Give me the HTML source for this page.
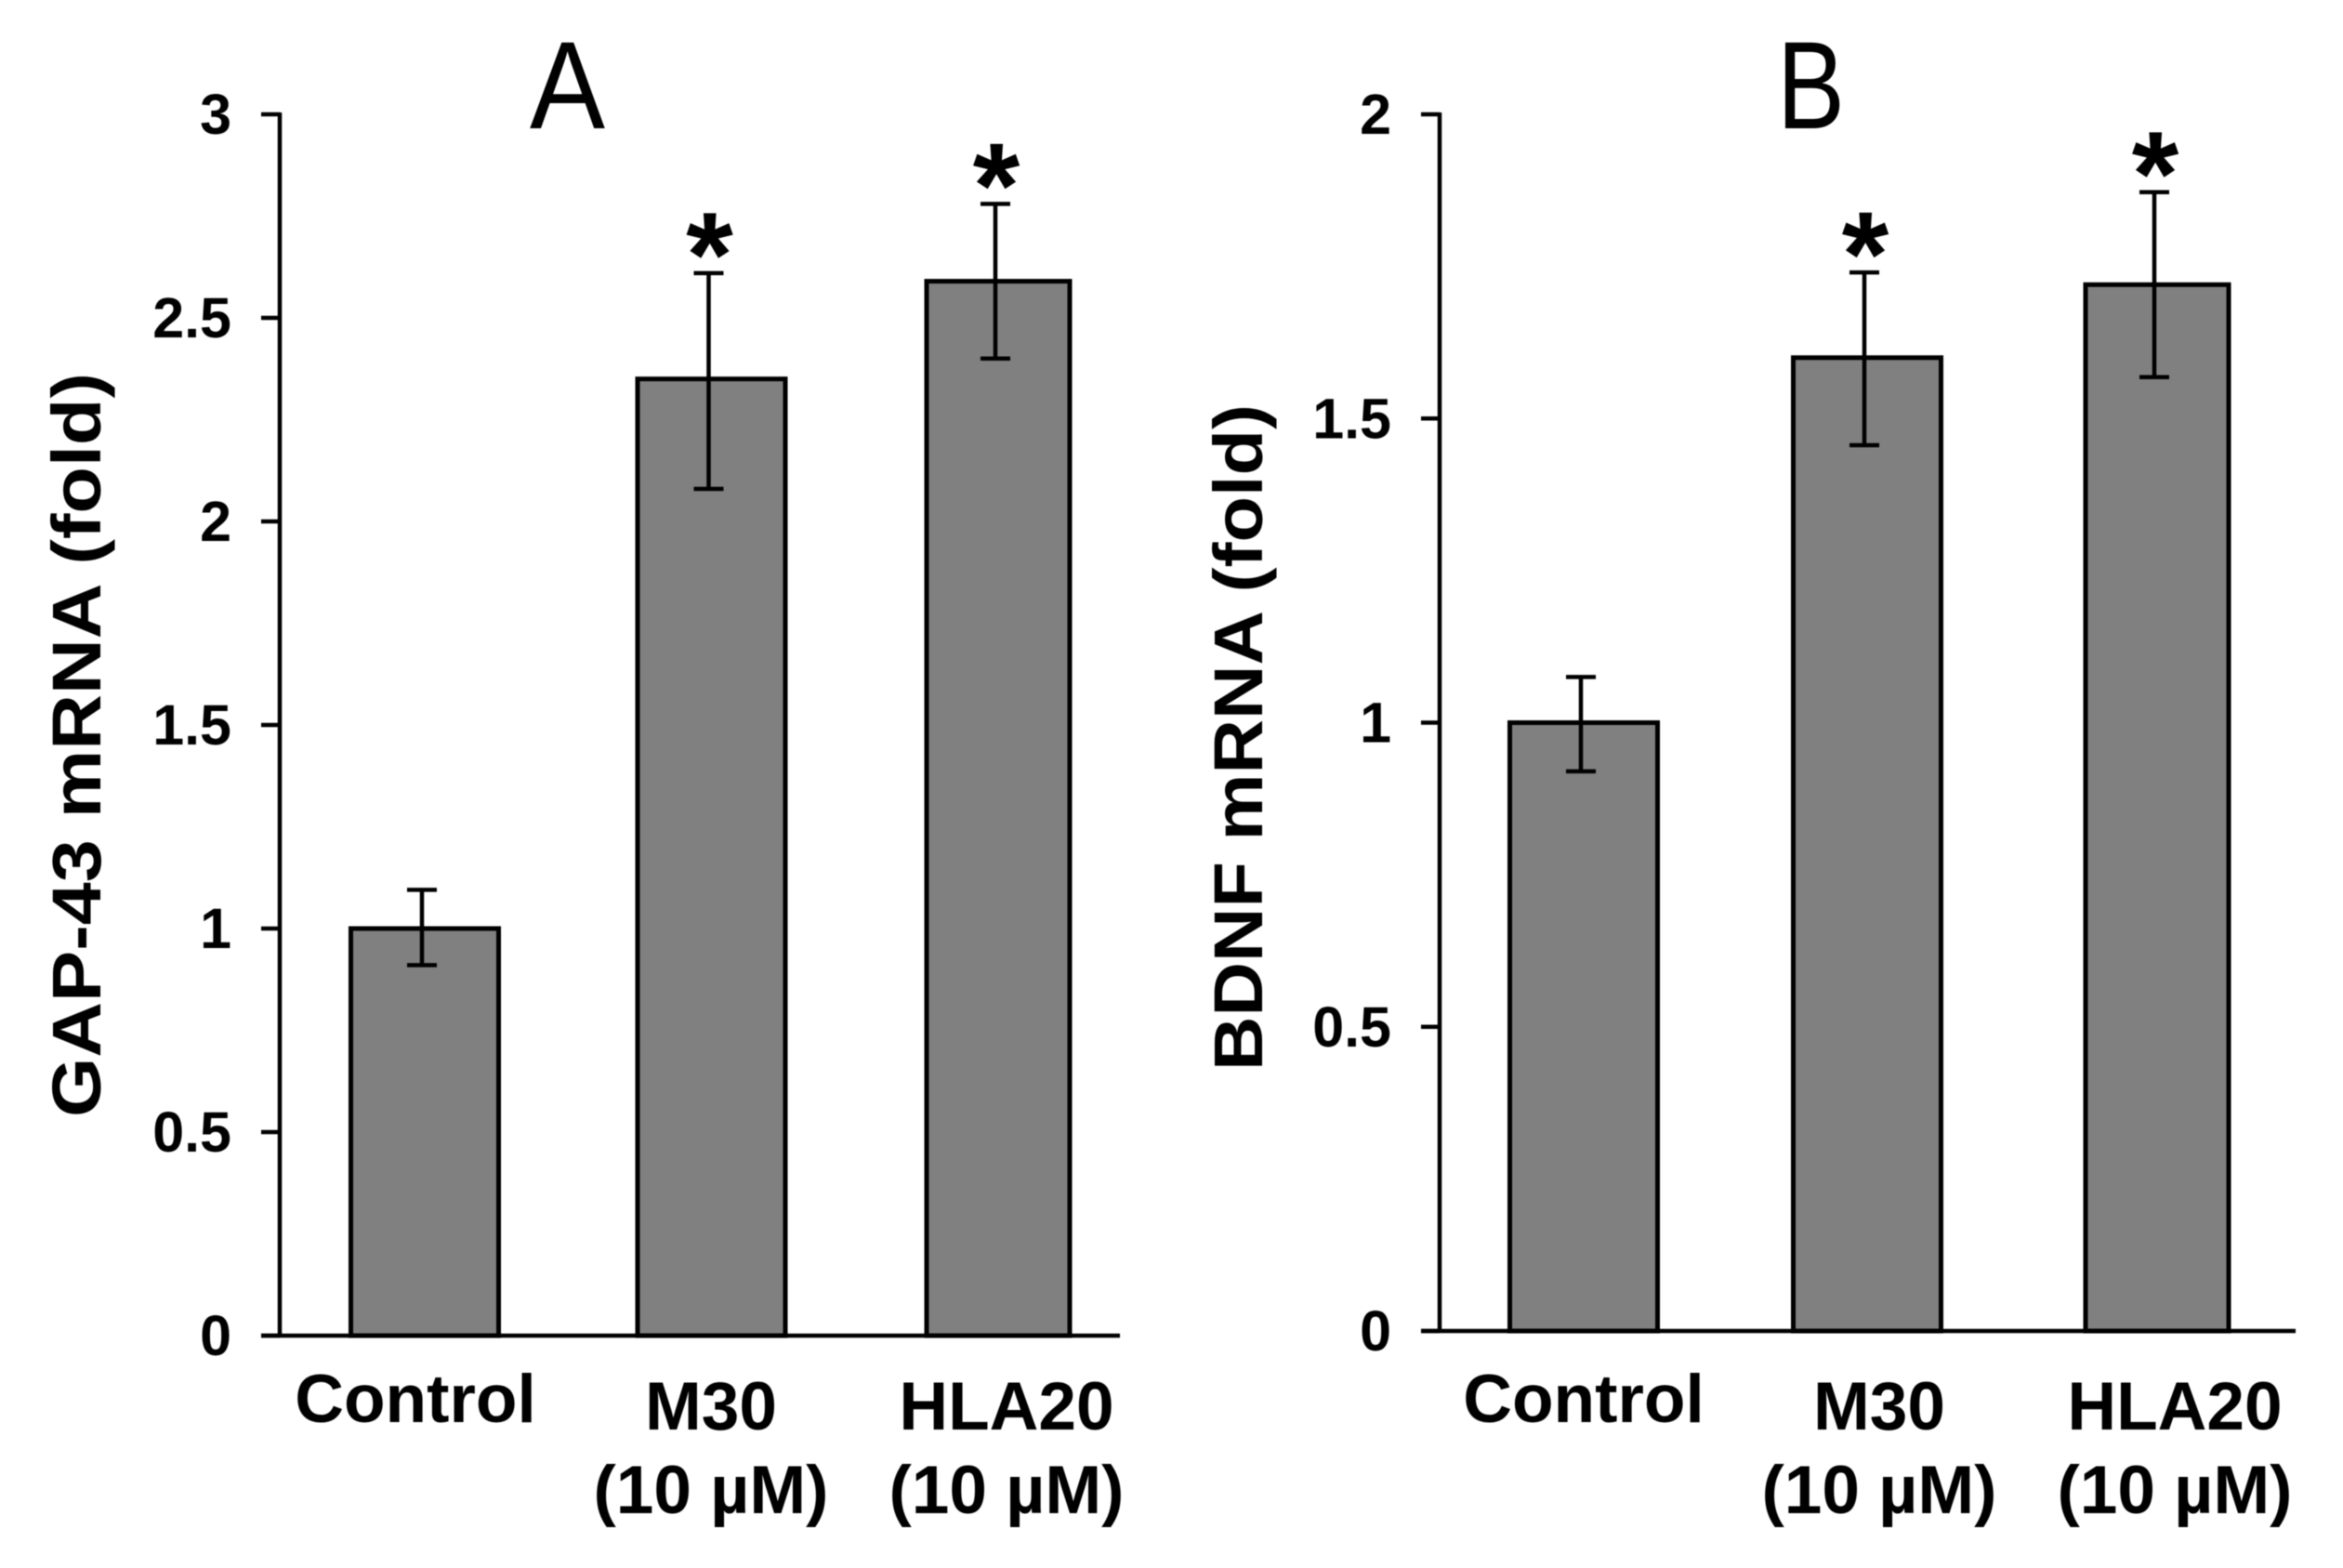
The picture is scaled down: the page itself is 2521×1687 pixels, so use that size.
<!DOCTYPE html>
<html lang="en">
<head>
<meta charset="utf-8">
<title>GAP-43 and BDNF mRNA expression</title>
<style>
  html, body { margin: 0; padding: 0; background: #fff; }
  body { width: 2521px; height: 1687px; overflow: hidden; }
  svg { display: block; filter: blur(0.6px); }
  text { font-family: "Liberation Sans", sans-serif; fill: #000; }
  .tick-text { font-size: 61px; font-weight: bold; text-anchor: end; }
  .cat-text { font-size: 73px; font-weight: bold; text-anchor: middle; }
  .axis-title { font-size: 74px; font-weight: bold; }
  .panel-title { font-size: 134px; font-weight: normal; }
  .star { font-size: 130px; font-weight: bold; text-anchor: middle; }
</style>
</head>
<body>
<svg id="figure" xmlns="http://www.w3.org/2000/svg" width="2521" height="1687" viewBox="0 0 2521 1687">
  <rect width="2521" height="1687" fill="#fff"/>
  <text class="panel-title" x="570" y="138" textLength="81" lengthAdjust="spacingAndGlyphs">A</text>
  <text class="panel-title" x="1912" y="138" textLength="73" lengthAdjust="spacingAndGlyphs">B</text>
  <text class="axis-title" transform="translate(108 1202) rotate(-90)" textLength="801" lengthAdjust="spacingAndGlyphs">GAP-43 mRNA (fold)</text>
  <text class="axis-title" transform="translate(1358 1152) rotate(-90)" textLength="717" lengthAdjust="spacingAndGlyphs">BDNF mRNA (fold)</text>
  <g id="panel-a"></g>
  <g id="panel-b"></g>
</svg>
<script>
const categories = ['Control', 'M30', 'HLA20'];
const doses = ['', '(10 µM)', '(10 µM)'];
const significance = ['', '*', '*'];

const ticksA = [0, 0.5, 1, 1.5, 2, 2.5, 3];
const valuesA = [1, 2.35, 2.59];
const errorHighA = [1.095, 2.61, 2.78];
const errorLowA = [0.91, 2.08, 2.40];

const ticksB = [0, 0.5, 1, 1.5, 2];
const valuesB = [1, 1.6, 1.72];
const errorHighB = [1.075, 1.74, 1.872];
const errorLowB = [0.92, 1.456, 1.568];

const NS = 'http://www.w3.org/2000/svg';

function make(parent, tag, attrs, text) {
  const el = document.createElementNS(NS, tag);
  for (const k in attrs) el.setAttribute(k, attrs[k]);
  if (text !== undefined) el.textContent = text;
  parent.appendChild(el);
  return el;
}

function line(parent, x1, y1, x2, y2, w) {
  return make(parent, 'line', { x1, y1, x2, y2, stroke: '#000', 'stroke-width': w });
}

function drawPanel(root, layout, ticks, values, errHigh, errLow) {
  const yMax = ticks[ticks.length - 1];
  const y = v => layout.yBottom - (v / yMax) * (layout.yBottom - layout.yTop);
  const barCenter = i => layout.barStart + i * layout.barStep + layout.barNudge(i);
  const barWidth = i => (i === values.length - 1 ? layout.barWidth - 5 : layout.barWidth);
  const labelCenter = i => layout.labelStart + i * layout.labelStep;

  values.forEach((v, i) => {
    const bar = make(root, 'rect', {
      x: barCenter(i) - barWidth(i) / 2,
      y: y(v),
      width: barWidth(i),
      height: y(0) - y(v),
      fill: '#808080',
      stroke: '#000',
      'stroke-width': 5
    });
    
    
  });

  values.forEach((v, i) => {
    const cx = barCenter(i) - 3;
    const g = make(root, 'g', {});
    
    
    line(g, cx, y(errHigh[i]), cx, y(errLow[i]), 4.5);
    line(g, cx - 16, y(errHigh[i]), cx + 16, y(errHigh[i]), 4.5);
    line(g, cx - 16, y(errLow[i]), cx + 16, y(errLow[i]), 4.5);

    if (significance[i]) {
      const star = make(root, 'text', {
        class: 'star',
        x: cx + 1,
        y: y(errHigh[i]) + 25
      }, significance[i]);
      
      
    }
  });

  const yAxis = line(root, layout.axisX, y(yMax) - 2, layout.axisX, y(0) + 2, 4.5);
  
  
  const xAxis = line(root, layout.axisX - 20, y(0), layout.xEnd, y(0), 4.5);
  
  

  ticks.forEach(t => {
    const mark = line(root, layout.axisX - 20, y(t), layout.axisX, y(t), 4.5);
    
    
    const label = make(root, 'text', {
      class: 'tick-text',
      x: layout.tickRight,
      y: y(t) + 21
    }, String(t));
    
    
  });

  categories.forEach((c, i) => {
    const name = make(root, 'text', {
      class: 'cat-text',
      x: labelCenter(i),
      y: doses[i] ? 1538 : 1530
    }, c);
    
    
    if (doses[i]) {
      const dose = make(root, 'text', {
        class: 'cat-text',
        x: labelCenter(i),
        y: 1628
      }, doses[i]);
      
      
    }
  });
}

drawPanel(document.getElementById('panel-a'),
  { axisX: 301, xEnd: 1205, yTop: 123, yBottom: 1437, tickRight: 249,
    barStart: 457, barStep: 308.5, barWidth: 159, barNudge: i => 0,
    labelStart: 447, labelStep: 318 },
  ticksA, valuesA, errorHighA, errorLowA);

drawPanel(document.getElementById('panel-b'),
  { axisX: 1549, xEnd: 2470, yTop: 123, yBottom: 1432, tickRight: 1497,
    barStart: 1704, barStep: 308.5, barWidth: 159, barNudge: i => (i === 1 ? -3.5 : 0),
    labelStart: 1704, labelStep: 318 },
  ticksB, valuesB, errorHighB, errorLowB);
</script>
</body>
</html>
